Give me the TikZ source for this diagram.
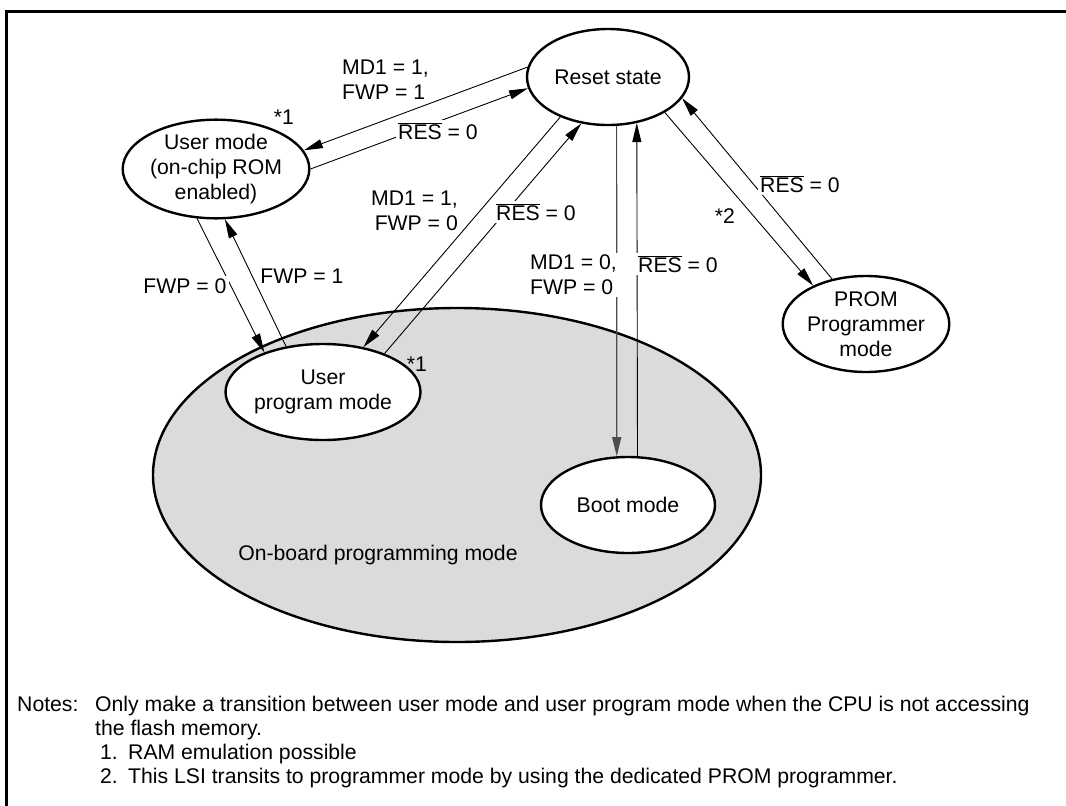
\documentclass[tikz,border=0pt]{standalone}
\usepackage{fontspec}
\setmainfont{Liberation Sans}
\usetikzlibrary{shapes.geometric,arrows.meta}
\newcommand\ovl[1]{$\overline{\mbox{#1}}$}
\begin{document}
\begin{tikzpicture}[x=1pt,y=-1pt,
  every node/.style={font=\fontsize{21.2}{25}\selectfont},
  st/.style={ellipse,draw,line width=2.4pt,fill=white,inner sep=0pt,align=center,minimum height=96pt},
  arr/.style={line width=0.9pt,-{Triangle[length=19pt,width=9pt]}},
  lbl/.style={fill=white,inner sep=2pt,align=left},
  note/.style={anchor=base west,inner sep=0pt}]
\useasboundingbox (0,0) rectangle (1066,806);
\draw[line width=3pt] (1066,11) -- (6,11) -- (6,806);
% on-board region
\node[ellipse,draw,line width=2.4pt,fill=black!14,minimum width=608pt,minimum height=334pt] (onboard) at (457,475) {};
\node (oblabel) at (378,555) {On-board programming mode};
% states
\node[st,minimum width=162pt] (reset) at (608,77) {Reset state};
\node[st,minimum width=168pt] (user) at (216,169) {User mode\\(on-chip ROM\\enabled)};
\node[st,minimum width=174pt] (upm) at (323,392) {User\\program mode};
\node[st,minimum width=174pt] (boot) at (628,505) {Boot mode};
\node[st,minimum width=162pt] (prom) at (866,324) {PROM\\Programmer\\mode};
% transitions
\draw[arr] (reset.173) -- (user.12.2);
\draw[arr] (user.0.7) -- (reset.188.4);
\draw[arr] (reset.220.4) -- (upm.48.4);
\draw[arr] (upm.32.1) -- (reset.240.9);
\draw[arr] (user.249.9) -- (upm.146.1);
\draw[arr] (upm.129.3) -- (user.280.3);
\draw[arr,draw=black!70,line width=1.2pt] (reset.280.7) -- (boot.103);
\draw[arr] (boot.79.3) -- (reset.302.9);
\draw[arr] (reset.328.6) -- (prom.144.4);
\draw[arr] (prom.127.3) -- (reset.344);
% labels
\node[lbl,anchor=west] (l1) at (340,80) {MD1 = 1,\\FWP = 1};
\node (s1a) at (284,117) {*1};
\node[lbl] (l2) at (438,131) {\ovl{RES} = 0};
\node[lbl,anchor=east,align=right] (l3) at (460,211) {MD1 = 1,\\FWP = 0};
\node[lbl] (l4) at (536,212) {\ovl{RES} = 0};
\node[lbl] (l5) at (185,286) {FWP = 0};
\node[lbl] (l6) at (302,276) {FWP = 1};
\node (s1b) at (417,364) {*1};
\node[lbl,anchor=west] (l7) at (528,275) {MD1 = 0,\\FWP = 0};
\node[lbl] (l8) at (678,264) {\ovl{RES} = 0};
\node[lbl] (l9) at (800,184) {\ovl{RES} = 0};
\node (s2) at (725,216) {*2};
% notes
\node[note] (n0) at (17,711) {Notes:};
\node[note] (n1) at (95,711) {Only make a transition between user mode and user program mode when the CPU is not accessing};
\node[note] (n2) at (95,735) {the flash memory.};
\node[note] (n3) at (100,759) {1.};
\node[note] (n3b) at (128,759) {RAM emulation possible};
\node[note] (n4) at (100,783) {2.};
\node[note] (n4b) at (128,783) {This LSI transits to programmer mode by using the dedicated PROM programmer.};
\end{tikzpicture}
\end{document}
